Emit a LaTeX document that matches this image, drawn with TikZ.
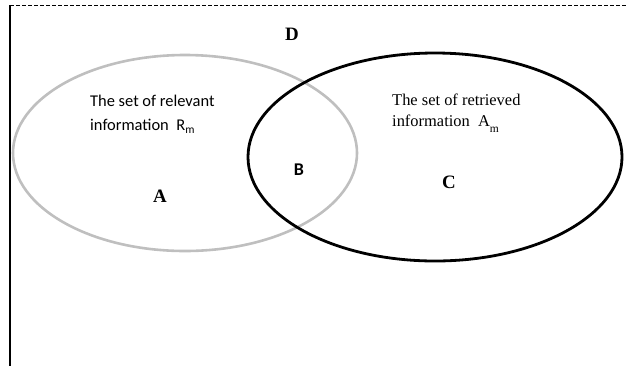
\documentclass[tikz,border=0pt]{standalone}
\usepackage{fontspec}
\setmainfont{Liberation Serif}
\newfontfamily\calib{Carlito}
\begin{document}
\begin{tikzpicture}[x=1bp,y=-1bp,
  frameline/.style={line width=1.2bp,black},
  relset/.style={draw=black!25,line width=2.6bp},
  retset/.style={draw=black,line width=2.8bp},
  sanslabel/.style={font=\calib\fontsize{16.5}{24}\selectfont,align=left,anchor=north west,inner sep=0pt},
  seriflabel/.style={font=\fontsize{16.5}{21}\selectfont,align=left,anchor=north west,inner sep=0pt},
  region/.style={font=\bfseries\fontsize{19}{22}\selectfont,inner sep=0pt}]
\useasboundingbox (0,0) rectangle (626,366);
% frame: dashed top edge, solid left edge
\coordinate (tl) at (10,5);
\coordinate (tr) at (626,5);
\coordinate (bl) at (10,366);
\draw[frameline,line width=0.9bp,dash pattern=on 4bp off 2bp] (tl) -- (tr);
\draw[frameline] (tl) -- (bl);
% the two sets
\draw[relset] (185,153) ellipse [x radius=172, y radius=98];
\draw[retset] (435,157) ellipse [x radius=187, y radius=104];
% labels
\node[sanslabel] (rel) at (90,95) {The set of relevant\\information \ R\textsubscript{m}};
\node[seriflabel] (ret) at (392,94) {The set of retrieved\\information \ A\textsubscript{\raisebox{-0.6ex}{m}}};
\node[region] (D) at (292,34) {D};
\node[region] (A) at (160,196) {A};
\node[region,font=\calib\bfseries\fontsize{18}{20}\selectfont] (B) at (299,170) {B};
\node[region] (C) at (449,182) {C};
\end{tikzpicture}
\end{document}
